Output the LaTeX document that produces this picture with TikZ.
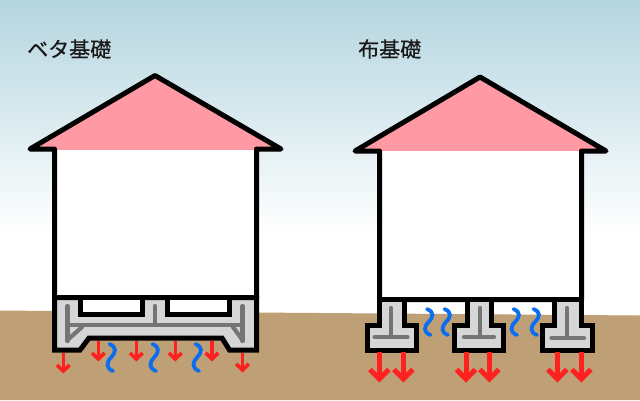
\documentclass[tikz,border=0pt]{standalone}
\usepackage{fontspec}
\newfontfamily\jpfont[FakeBold=0.6]{Noto Sans CJK JP}
\definecolor{skytop}{HTML}{B4D5DF}
\definecolor{ground}{HTML}{BF9F76}
\definecolor{roofpink}{HTML}{FF9AA5}
\definecolor{concrete}{HTML}{D6D6D6}
\definecolor{rebar}{HTML}{757575}
\definecolor{arrowred}{HTML}{FF2020}
\definecolor{waveblue}{HTML}{0A6EF0}
\tikzset{
  px/.style={x=1pt,y=-1pt},
  outline/.style={draw=black,line width=5pt,line join=miter},
  roofline/.style={draw=black,line width=5pt,line join=round,line cap=butt},
  rebarline/.style={draw=rebar,line width=4.2pt,line cap=round},
  smallred/.style={draw=arrowred,line width=3.6pt},
  bigred/.style={draw=arrowred,line width=5pt},
  wave/.style={draw=waveblue,line width=3.8pt,line cap=round},
  title/.style={font=\jpfont\fontsize{21pt}{21pt}\selectfont,text=black!90,inner sep=0pt,anchor=west}
}
\newcommand{\smallarrow}[3]{% x, y start, y end
  \draw[smallred] (#1,#2) -- (#1,#3-3);
  \draw[smallred] (#1-6.3,#3-7) -- (#1,#3-1) -- (#1+6.3,#3-7);
}
\newcommand{\bigarrow}[1]{%
  \draw[bigred] (#1,352) -- (#1,377);
  \draw[bigred] (#1-9.5,369.5) -- (#1,379) -- (#1+9.5,369.5);
}
\newcommand{\wavy}[3]{% x, top y, bottom y
  \pgfmathsetmacro{\myh}{(#3-#2)}
  \draw[wave] (#1-1.5,#2) .. controls (#1+6,#2+0.12*\myh) and (#1+5,#2+0.3*\myh) .. (#1,#2+0.5*\myh)
     .. controls (#1-5,#2+0.7*\myh) and (#1-5,#2+0.9*\myh) .. (#1+2,#3);
}
\begin{document}
\begin{tikzpicture}[px]
\useasboundingbox (0,0) rectangle (640,400);
% sky and ground
\fill[white] (0,0) rectangle (640,400);
\shade[top color=skytop,bottom color=white] (0,0) rectangle (640,232);
\fill[ground] (0,310.5) -- (53,311) -- (320,313) -- (640,315.5) -- (640,400) -- (0,400) -- cycle;
% left house
\fill[roofpink] (30,149) -- (155,75.5) -- (281,149) -- (281,151) -- (30,151) -- cycle;
\fill[white] (54.5,150) rectangle (256.5,298);
\draw[roofline] (54.5,297.5) -- (54.5,149) -- (30,149) -- (155,75.5) -- (281,149) -- (256.5,149) -- (256.5,297.5);
% slab foundation
\draw[outline,fill=concrete] (54.5,297.5) -- (256.5,297.5) -- (256.5,350) -- (229.5,350) -- (222,338) -- (89,338) -- (80,350) -- (54.5,350) -- cycle;
\draw[outline,fill=white] (80.5,297.5) -- (80.5,314.5) -- (142.7,314.5) -- (142.7,297.5);
\draw[outline,fill=white] (167.5,297.5) -- (167.5,314.5) -- (229.7,314.5) -- (229.7,297.5);
\draw[outline] (54.5,297.5) -- (256.5,297.5);
\draw[rebarline] (67.5,306) -- (67.5,341);
\draw[rebarline] (242.5,306) -- (242.5,341);
\draw[rebarline] (155,306) -- (155,325);
\draw[rebarline] (67.5,325) -- (242.5,325);
\draw[rebarline] (67.5,340) -- (82,327);
\draw[rebarline] (242.5,340) -- (233,327);
\smallarrow{63.3}{353}{372}
\smallarrow{98.3}{341}{360}
\smallarrow{136.3}{341}{360}
\smallarrow{175.3}{341}{360}
\smallarrow{212}{341}{360}
\smallarrow{242.5}{353}{371}
\wavy{111}{344}{371}
\wavy{154}{344}{371}
\wavy{197}{344}{371}
% right house
\fill[roofpink] (355,151) -- (480,77) -- (606,151) -- (606,152) -- (355,152) -- cycle;
\fill[white] (379.5,151) rectangle (581.5,300);
\draw[roofline] (379.5,299.5) -- (379.5,151) -- (355,151) -- (480,77) -- (606,151) -- (581.5,151) -- (581.5,299.5) -- cycle;
% strip footings
\draw[outline,fill=concrete] (379.5,299.5) -- (404.5,299.5) -- (404.5,325) -- (416.5,325) -- (416.5,350) -- (367,350) -- (367,325) -- (379.5,325) -- cycle;
\draw[outline,fill=concrete] (467,299.5) -- (491.5,299.5) -- (491.5,325) -- (503.5,325) -- (503.5,350) -- (454.5,350) -- (454.5,325) -- (467,325) -- cycle;
\draw[outline,fill=concrete] (554,299.5) -- (581.5,299.5) -- (581.5,325) -- (592.5,325) -- (592.5,350) -- (542.5,350) -- (542.5,325) -- (554,325) -- cycle;
\draw[rebarline] (391.3,308) -- (391.3,337);
\draw[rebarline] (374.5,337) -- (407.5,337);
\draw[rebarline] (480.3,308) -- (480.3,337);
\draw[rebarline] (464,337) -- (494,337);
\draw[rebarline] (567.3,308) -- (567.3,338);
\draw[rebarline] (551.5,338) -- (584,338);
\bigarrow{379.3}
\bigarrow{403.3}
\bigarrow{466}
\bigarrow{489.3}
\bigarrow{557.3}
\bigarrow{581.3}
\wavy{428.5}{309}{335}
\wavy{446}{309}{335}
\wavy{515}{309}{335}
\wavy{535}{309}{335}
% titles
\node[title] (betaLabel) at (27,49) {ベタ基礎};
\node[title] (nunoLabel) at (358,49) {布基礎};
\end{tikzpicture}
\end{document}
